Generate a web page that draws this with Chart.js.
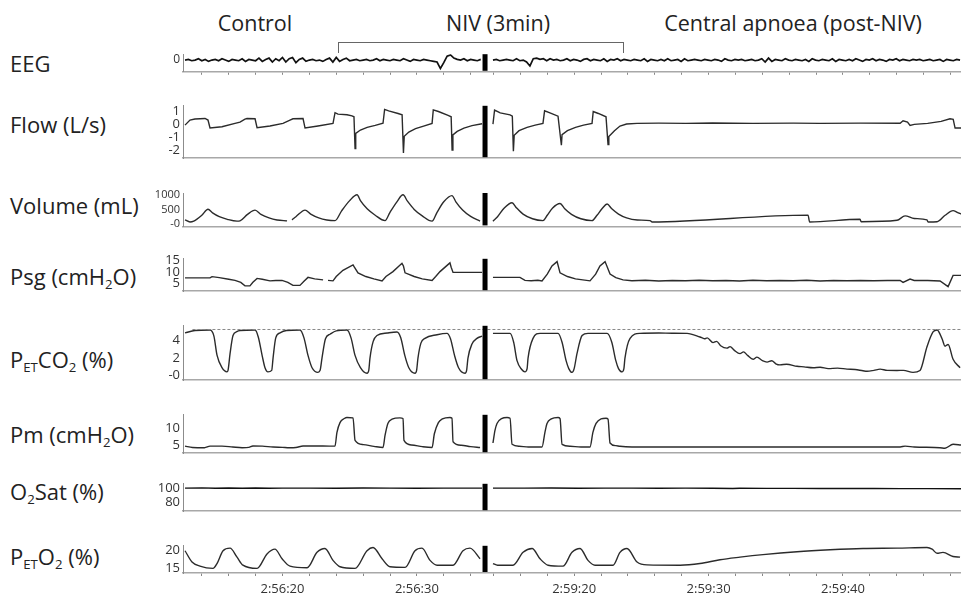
<!DOCTYPE html>
<html>
<head>
<meta charset="utf-8">
<script src="https://cdn.jsdelivr.net/npm/chart.js@4.4.1/dist/chart.umd.min.js"></script>
<style>
body{margin:0;width:961px;height:601px;background:#fff;position:relative;overflow:hidden;font-family:"Open Sans",sans-serif;color:#222}
.panel{position:absolute;left:0;width:961px}
.lbl{position:absolute;left:10px;font-size:22px;line-height:1;transform:translateY(-50%);white-space:nowrap}
.lbl sub{font-size:0.6em;vertical-align:-0.3em;line-height:0}
.top{position:absolute;top:23px;font-size:21.5px;line-height:1;transform:translate(-50%,-50%);white-space:nowrap}
#bracket{position:absolute;left:338px;top:42px;width:284px;height:10px;border:1px solid #666;border-bottom:none}
</style>
</head>
<body>
<div class="top" style="left:255px">Control</div>
<div class="top" style="left:498px">NIV (3min)</div>
<div class="top" style="left:793px">Central apnoea (post-NIV)</div>
<div id="bracket"></div>

<div class="lbl" style="top:63px">EEG</div>
<div class="lbl" style="top:124px">Flow (L/s)</div>
<div class="lbl" style="top:205px">Volume (mL)</div>
<div class="lbl" style="top:276px">Psg (cmH<sub>2</sub>O)</div>
<div class="lbl" style="top:359px">P<sub>ET</sub>CO<sub>2</sub> (%)</div>
<div class="lbl" style="top:434px">Pm (cmH<sub>2</sub>O)</div>
<div class="lbl" style="top:491px">O<sub>2</sub>Sat (%)</div>
<div class="lbl" style="top:556px">P<sub>ET</sub>O<sub>2</sub> (%)</div>

<div class="panel" id="pEEG"><canvas></canvas></div>
<div class="panel" id="pFlow"><canvas></canvas></div>
<div class="panel" id="pVol"><canvas></canvas></div>
<div class="panel" id="pPsg"><canvas></canvas></div>
<div class="panel" id="pCO2"><canvas></canvas></div>
<div class="panel" id="pPm"><canvas></canvas></div>
<div class="panel" id="pSat"><canvas></canvas></div>
<div class="panel" id="pO2"><canvas></canvas></div>

<script>
// time axis: left part is 2:56:xx seconds, right part is 2:59:xx seconds + rightShift
var timeMin = 12.6, timeMax = 70.48;
var breakAt = 35.07;
var rightShift = 21.7;
var leftTickSec = [14,16,18,20,22,24,26,28,30,32,34];
var rightTickSec = [14,16,18,20,22,24,26,28,30,32,34,36,38,40,42,44,46,48];
var majorSec = [20,30,40];
var co2Ref = 5.25;

// EEG (arbitrary units), sampled every 0.25 s
var eegStep = 0.25;
var eegStartL = 12.75, eegStartR = 35.66;
var eegL = [0,1,-1,0,2,-1,1,-2,0,1, -1,2,0,-2,1,0,-1,2,-2,1, 0,-1,3,-2,1,3,-3,2,-1,4,
  -3,2,4,-4,1,3,-2,0,1,-1, 0,-2,1,3,-3,4,-2,1,3,-1, 0,1,-1,0,1,-1,0,2,-1,1,
  0,-1,1,0,-1,2,0,-2,1,0, -1,1,0,-1,-2,-3,-13,-4,6,8, 3,1,0,2,-1,1,0,-1,1];
var eegR = [0,1,-1,0,1,0,-1,2,-1,0, -3,-9,2,3,1,2,-1,2,0,1, -1,0,2,-1,1,0,-2,1,2,-1,
  1,0,-1,2,-2,1,0,2,-1,1, 0,-1,1,0,-1,2,-2,1,0,-1, 1,-1,2,-1,0,1,-2,2,-1,0,
  1,0,-1,1,0,-1,1,0,-2,2, 0,-1,1,0,1,-1,0,1,-1,0, 2,-3,3,-2,1,0,-1,2,0,-1,
  1,0,-1,1,-2,2,0,-1,1,0, -1,2,-2,1,0,-1,1,-1,2,0, -2,1,0,2,-1,1,0,-2,1,0,
  2,-1,1,0,-1,1,0,1,-1,0, 1,-1,0,1,-2,1,0,-1,1,0];

// Flow (L/s)
var flowL = [[12.75,-0.08],[13.12,0.3],[13.49,0.38],[14.24,0.42],[14.46,0.3],[14.61,-0.29],[15.5,-0.2],[16.47,0.05],[16.84,0.15],[17.21,0.38],[17.36,0.42],[17.96,0.4],[18.11,-0.28],[19.07,-0.15],[20.04,0.05],[20.56,0.3],[20.78,0.4],[21.53,0.42],[21.68,-0.3],[22.64,-0.15],[23.76,0.05],[23.91,0.86],[24.13,0.75],[24.8,0.7],[25.17,0.62],[25.32,0.55],[25.4,-1.86],[25.45,-0.71],[25.8,-0.45],[26.3,-0.25],[26.9,-0.1],[27.48,0.06],[27.6,1.11],[27.9,1.0],[28.6,0.8],[28.9,0.7],[29.0,-2.18],[29.06,-0.92],[29.4,-0.6],[29.9,-0.35],[30.5,-0.15],[31.13,0.05],[31.22,1.07],[31.6,0.95],[32.32,0.65],[32.55,0.55],[32.62,-1.97],[32.68,-0.82],[33.0,-0.55],[33.5,-0.3],[34.1,-0.12],[34.85,0.02]];
var flowR = [[35.66,0],[35.78,1.06],[36.2,0.85],[36.93,0.7],[37.1,0.6],[37.18,-2.06],[37.24,-0.85],[37.6,-0.5],[38.2,-0.25],[38.8,-0.08],[39.38,0.05],[39.5,1.0],[39.9,0.85],[40.5,0.6],[40.75,-1.6],[40.8,-0.8],[41.2,-0.5],[41.8,-0.25],[42.4,-0.08],[43.03,0.05],[43.12,0.95],[43.5,0.8],[44.07,0.55],[44.22,-1.55],[44.28,-0.95],[44.7,-0.5],[45.11,-0.15],[45.6,0.0],[46.38,0.05],[48,0.07],[50,0.05],[52,0.08],[55,0.05],[58,0.07],[60,0.05],[63,0.07],[65.95,0.06],[66.17,0.25],[66.5,0.15],[66.69,-0.1],[67.0,-0.02],[68.0,0.05],[69.0,0.2],[69.66,0.4],[69.9,0.35],[70.04,-0.3],[70.48,-0.3]];

// Volume (mL)
var volL = [[12.75,144],[13.12,72],[13.4,100],[14.0,300],[14.46,504],[14.8,380],[15.3,250],[15.9,160],[16.62,99],[16.84,110],[17.4,330],[17.96,477],[18.4,330],[19.0,210],[19.6,140],[20.34,110],[20.56,null],[20.71,144],[21.0,250],[21.68,477],[22.1,340],[22.7,210],[23.3,140],[23.91,117],[24.4,450],[25.0,800],[25.55,999],[25.8,800],[26.3,520],[26.9,300],[27.63,117],[28.0,400],[28.5,750],[28.97,999],[29.3,780],[29.8,500],[30.4,280],[31.13,99],[31.5,400],[32.0,760],[32.61,972],[32.9,760],[33.4,480],[34.0,260],[34.7,99]];
var volR = [[35.66,99],[36.0,250],[36.5,550],[37.08,729],[37.4,560],[37.9,340],[38.6,180],[39.38,117],[39.7,300],[40.1,550],[40.65,702],[41.0,520],[41.5,330],[42.2,180],[43.03,117],[43.4,300],[43.8,540],[44.15,684],[44.5,520],[45.0,340],[45.6,210],[46.4,140],[47.35,117],[47.5,72],[59.1,306],[59.22,72],[62.97,162],[63.05,81],[65.72,130],[66.32,279],[67.0,190],[67.95,140],[68.03,72],[68.7,80],[69.3,300],[69.89,459],[70.2,400],[70.48,342]];

// Psg (cmH2O)
var psgL = [[12.75,7.41],[14.61,7.41],[14.76,7.95],[15.3,7.5],[16.0,6.8],[16.47,6.34],[16.9,5.5],[17.21,3.98],[17.58,4.0],[17.8,5.5],[18.11,7.2],[18.5,6.8],[19.07,6.13],[19.5,6.3],[19.97,6.34],[20.4,5.5],[20.78,4.2],[21.3,4.2],[21.6,6.0],[21.9,7.63],[22.4,7.0],[23.02,6.56],[23.2,null],[23.39,6.34],[23.76,6.13],[24.0,8.0],[24.5,10.65],[25.25,13.0],[25.35,12.0],[25.62,9.57],[26.2,8.0],[26.8,7.0],[27.41,6.13],[27.7,8.0],[28.22,10.1],[28.89,13.65],[29.0,12.5],[29.12,9.57],[29.8,8.0],[30.4,7.0],[31.13,6.34],[31.4,8.0],[31.72,10.1],[32.46,13.86],[32.55,12.0],[32.69,9.78],[34.85,9.78]];
var psgR = [[35.66,7.63],[37.67,7.63],[38.04,6.34],[38.5,6.2],[39.0,6.4],[39.31,6.13],[39.7,9.0],[40.05,12.58],[40.43,14.4],[40.65,9.57],[41.2,8.0],[41.8,7.0],[42.88,6.13],[43.3,9.0],[43.62,12.58],[44.0,14.4],[44.37,9.03],[44.8,7.5],[45.34,6.56],[46,6.2],[47,6.4],[48,6.1],[49,6.3],[50,6.2],[51,6.4],[52,6.2],[53,6.3],[54,6.1],[55,6.4],[56,6.2],[57,6.3],[58,6.2],[59,6.4],[60,6.1],[61,6.3],[62,6.2],[63,6.3],[64,6.2],[65,6.3],[65.95,6.3],[66.17,5.48],[66.69,6.88],[67.0,6.3],[68.0,6.3],[68.92,6.1],[69.52,3.66],[69.89,8.49],[70.48,8.49]];

// PETCO2 (%)
var co2L = [[12.75,4.87],[13.49,5.13],[14.61,5.19],[14.9,4.5],[15.13,2.34],[15.5,0.9],[15.87,0.43],[15.95,0.6],[16.1,2.5],[16.32,4.56],[16.6,5.0],[16.84,5.13],[17.96,5.19],[18.2,4.4],[18.5,2.2],[18.7,0.9],[18.92,0.43],[19.2,0.6],[19.3,2.0],[19.5,4.3],[19.82,4.87],[20.3,5.13],[21.3,5.19],[21.6,4.3],[21.9,2.3],[22.2,0.9],[22.64,0.37],[22.8,0.6],[22.94,2.0],[23.2,4.2],[23.54,4.71],[24.0,5.1],[24.8,5.19],[25.1,4.3],[25.4,2.3],[25.8,0.9],[26.29,0.27],[26.42,0.6],[26.51,2.0],[26.75,3.9],[27.03,4.56],[27.8,4.85],[28.52,4.97],[28.8,4.3],[29.1,2.3],[29.4,0.9],[29.86,0.27],[29.98,0.6],[30.08,2.0],[30.3,3.7],[30.6,4.24],[31.5,4.65],[32.24,4.81],[32.5,4.2],[32.8,2.3],[33.1,0.9],[33.58,0.27],[33.7,0.6],[33.8,2.0],[34.1,3.6],[34.47,4.24],[34.85,4.49]];
var co2R = [[35.66,4.81],[36.93,4.81],[37.2,3.8],[37.45,1.7],[37.8,0.7],[38.04,0.43],[38.2,0.8],[38.27,2.0],[38.64,4.24],[39.16,4.81],[40.5,4.81],[40.8,3.8],[41.1,1.7],[41.3,0.8],[41.54,0.37],[41.7,0.8],[41.91,2.5],[42.29,4.56],[42.73,4.81],[44.15,4.81],[44.5,3.8],[44.8,1.7],[45.0,0.8],[45.26,0.43],[45.4,0.8],[45.48,2.0],[45.86,4.24],[46.6,4.81],[48.0,4.85],[49.0,4.82],[50.1,4.81],[51.06,4.4],[51.4,4.2],[51.6,4.3],[52.03,3.76],[52.3,3.9],[52.6,3.4],[53.07,3.13],[53.3,3.3],[53.6,2.9],[54.04,2.5],[54.3,2.7],[54.6,2.3],[55.01,1.86],[55.3,2.1],[55.7,1.7],[56.05,1.54],[56.4,1.7],[56.7,1.35],[57.01,1.22],[57.5,1.3],[58.28,1.06],[58.8,1.0],[59.47,0.9],[60.0,0.95],[60.6,0.8],[61.3,0.85],[62.0,0.74],[62.6,0.7],[63.19,0.55],[63.49,0.49],[64.0,0.6],[64.46,0.74],[65.0,0.6],[65.72,0.59],[66.2,0.6],[66.91,0.37],[67.43,0.59],[67.95,3.29],[68.4,4.97],[68.7,5.19],[69.07,4.2],[69.29,3.35],[69.52,3.55],[69.89,1.86],[70.41,0.9]];

// Pm (cmH2O)
var pmL = [[12.75,4.85],[13.3,4.45],[14.2,4.4],[14.61,4.85],[15.5,4.85],[16.3,4.6],[17.0,4.4],[17.5,4.5],[17.8,4.9],[18.5,4.85],[19.3,4.6],[20.0,4.5],[20.5,4.4],[21.0,4.45],[21.53,4.9],[22.5,4.9],[23.5,4.85],[23.91,4.9],[24.05,8.86],[24.28,11.8],[24.6,13.0],[24.8,13.32],[25.25,13.2],[25.4,6.54],[26.0,5.3],[26.8,4.8],[27.48,4.45],[27.63,8.0],[27.85,11.6],[28.15,12.8],[28.74,13.2],[28.97,13.0],[29.04,6.54],[29.6,5.2],[30.4,4.7],[31.13,4.46],[31.3,8.5],[31.6,11.8],[31.9,12.9],[32.46,13.32],[32.61,13.1],[32.69,6.16],[33.3,5.1],[34.0,4.7],[34.7,4.46]];
var pmR = [[35.66,5.78],[35.81,9.5],[35.96,11.55],[36.3,13.0],[36.71,13.32],[36.93,13.1],[37.08,5.39],[37.6,4.8],[38.3,4.6],[39.31,4.62],[39.53,9.0],[39.68,11.55],[40.0,12.9],[40.5,13.32],[40.65,13.0],[40.8,5.39],[41.4,4.8],[42.2,4.6],[42.88,4.62],[43.1,9.0],[43.33,11.55],[43.7,12.9],[44.07,13.09],[44.22,12.8],[44.37,5.78],[44.8,5.0],[45.11,4.8],[46.0,4.62],[50,4.6],[55,4.62],[60,4.6],[65.95,4.62],[66.32,4.85],[67.0,4.6],[68.92,4.39],[69.29,4.23],[69.89,5.39],[70.48,5.2]];

// O2Sat (%)
var satL = [[12.75,100],[14,100.3],[15,99.8],[16,100.2],[17,99.9],[18,100.1],[19,99.8],[20,100],[22,100],[24,99.9],[26,100.1],[28,100],[30,99.9],[32,100],[34.85,100]];
var satR = [[35.66,100],[38,100],[40,100.1],[42,99.9],[44,100],[46,100],[48,99.9],[50,100],[52,99.8],[53.5,99.4],[54,99.9],[56,99.7],[58,99.6],[60,99.5],[62,99.4],[64,99.4],[66,99.3],[68,99.3],[70.48,99.2]];

// PETO2 (%)
var o2L = [[12.75,20.0],[13.27,16.82],[13.86,15.64],[14.83,15.0],[15.13,16.37],[15.58,20.0],[16.1,20.73],[16.62,18.18],[17.06,15.91],[18.11,15.0],[18.85,19.09],[19.44,20.45],[19.97,17.73],[20.56,15.64],[21.83,15.18],[22.57,19.55],[23.16,20.64],[23.76,17.27],[24.28,15.46],[25.4,15.0],[26.29,20.0],[26.74,20.91],[27.41,17.73],[28.0,15.46],[29.12,15.28],[29.86,20.0],[30.38,20.73],[30.98,17.27],[31.5,15.91],[32.69,15.91],[33.43,20.0],[33.95,20.73],[34.7,17.73]];
var o2R = [[35.66,16.37],[36.0,15.91],[37.15,15.91],[37.9,19.55],[38.57,20.64],[39.16,17.73],[39.76,15.91],[40.87,15.64],[41.54,19.55],[42.14,20.64],[42.73,17.27],[43.25,15.91],[44.59,15.91],[45.11,19.55],[45.63,20.64],[46.38,16.82],[47.12,16.0],[49.58,15.91],[51.06,16.37],[52.55,17.45],[54.04,18.18],[55.75,18.9],[58.28,19.73],[60.74,20.27],[63.19,20.64],[65.72,20.73],[67.95,20.91],[68.33,20.45],[68.7,19.27],[69.14,19.55],[69.89,18.36],[70.41,18.18]];

function eegPoints(vals, start){
    return vals.map(function(v, i){ return [start + i*eegStep, v]; });
}

var xTicks = [], xLabels = [];
leftTickSec.forEach(function(s){
    xTicks.push(s);
    xLabels.push(majorSec.indexOf(s) >= 0 ? '2:56:' + s : '');
});
rightTickSec.forEach(function(s){
    xTicks.push(s + rightShift);
    xLabels.push(majorSec.indexOf(s) >= 0 ? '2:59:' + s : '');
});

var breakBar = {
    id: 'breakBar',
    afterDatasetsDraw: function(chart){
        var a = chart.chartArea, ctx = chart.ctx;
        var x = chart.scales.x.getPixelForValue(breakAt);
        ctx.save();
        ctx.fillStyle = '#000';
        ctx.fillRect(x - 2.5, a.top, 5, a.bottom - a.top - 1);
        ctx.restore();
    }
};

function trace(points, extra){
    var ds = {
        data: points,
        borderColor: '#2b2b2b',
        borderWidth: 1.4,
        pointRadius: 0,
        tension: 0,
        fill: false,
        spanGaps: false
    };
    for (var k in extra) ds[k] = extra[k];
    return ds;
}

function Panel(id, top, bottom, yMin, yMax, yTicks, yLabels, datasets, isBottom, tickSize){
    var xh = isBottom ? 28 : 1;
    var box = document.getElementById(id);
    box.style.top = (top - 10) + 'px';
    box.style.height = (bottom - top + 10 + xh) + 'px';
    var ctx = box.querySelector('canvas').getContext('2d');
    new Chart(ctx, {
        type: 'line',
        data: {datasets: datasets},
        options: {
            responsive: true,
            maintainAspectRatio: false,
            animation: false,
            events: [],
            layout: {padding: {top: 10, left: 0, right: 0, bottom: 0}},
            plugins: {legend: {display: false}, tooltip: {enabled: false}},
            scales: {
                x: {
                    type: 'linear',
                    min: timeMin,
                    max: timeMax,
                    afterFit: function(s){ s.height = xh; },
                    afterBuildTicks: function(s){ s.ticks = xTicks.map(function(v){ return {value: v}; }); },
                    border: {display: true, color: '#a8a8a8', width: 1.5},
                    grid: {display: isBottom, drawOnChartArea: false, drawTicks: true, tickLength: 3, color: '#888'},
                    ticks: {
                        display: isBottom,
                        autoSkip: false,
                        maxRotation: 0,
                        padding: 5,
                        color: '#333',
                        font: {family: 'Open Sans', size: 13},
                        callback: function(v, i){ return xLabels[i]; }
                    }
                },
                y: {
                    min: yMin,
                    max: yMax,
                    afterFit: function(s){ s.width = 183; },
                    afterBuildTicks: function(s){ s.ticks = yTicks.map(function(v){ return {value: v}; }); },
                    border: {display: true, color: '#8c8c8c', width: 1},
                    grid: {display: false, drawTicks: false},
                    ticks: {
                        autoSkip: false,
                        padding: 3,
                        color: '#333',
                        font: {family: 'Open Sans', size: tickSize || 12},
                        callback: function(v, i){ return yLabels[i]; }
                    }
                }
            }
        },
        plugins: [breakBar]
    });
}

window.addEventListener("load", function(){
    Panel('pEEG', 54, 81, -18, 9, [0], ['0'], [
        trace(eegPoints(eegL, eegStartL), {borderColor: '#111', borderWidth: 1.7}),
        trace(eegPoints(eegR, eegStartR), {borderColor: '#111', borderWidth: 1.7})
    ]);
    Panel('pFlow', 105, 168, -2.58, 1.38, [1, 0, -1, -2], ['1', '0', '-1', '-2'], [
        trace(flowL), trace(flowR)
    ], false, 13);
    Panel('pVol', 193, 235, -80, 1060, [1000, 500, 0], ['1000', '500', '-0'], [
        trace(volL, {cubicInterpolationMode: 'monotone'}), trace(volR, {cubicInterpolationMode: 'monotone'})
    ], false, 11);
    Panel('pPsg', 258, 301, 1.7, 15.6, [15, 10, 5], ['15', '10', '5'], [
        trace(psgL), trace(psgR)
    ], false, 13);
    Panel('pCO2', 325, 390, -0.52, 5.67, [4, 2, 0], ['4', '2', '-0'], [
        trace([[13.3, co2Ref], [timeMax, co2Ref]], {borderColor: '#888', borderWidth: 1, borderDash: [3, 2]}),
        trace(co2L, {cubicInterpolationMode: 'monotone'}), trace(co2R, {cubicInterpolationMode: 'monotone'})
    ], false, 13);
    Panel('pPm', 414, 463, 2.77, 14.1, [10, 5], ['10', '5'], [
        trace(pmL, {cubicInterpolationMode: 'monotone'}), trace(pmR, {cubicInterpolationMode: 'monotone'})
    ], false, 13);
    Panel('pSat', 483, 521, 68, 106, [100, 80], ['100', '80'], [
        trace(satL, {borderColor: '#111'}), trace(satR, {borderColor: '#111'})
    ], false, 13);
    Panel('pO2', 545, 573, 13.7, 21.4, [20, 15], ['20', '15'], [
        trace(o2L, {cubicInterpolationMode: 'monotone'}), trace(o2R, {cubicInterpolationMode: 'monotone'})
    ], true, 13);
});
</script>
</body>
</html>
